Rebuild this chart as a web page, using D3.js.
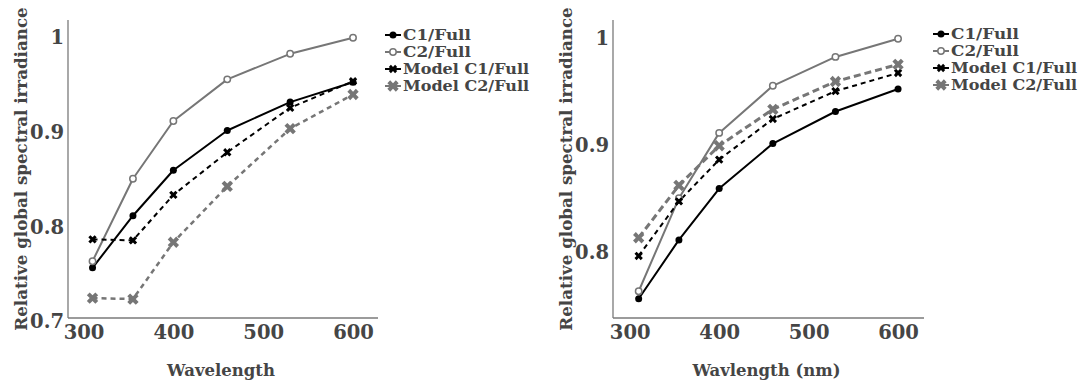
<!DOCTYPE html>
<html>
<head>
<meta charset="utf-8">
<script src="https://cdn.jsdelivr.net/npm/d3@7"></script>
<style>
  html, body { margin: 0; padding: 0; background: #fff; }
  svg text { font-family: "DejaVu Serif", serif; font-weight: bold; fill: #454545; }
</style>
</head>
<body>
<svg id="chart" width="1081" height="383"></svg>
<script>
// Wavelengths (nm) of the measured bands
const wavelengths = [310, 355, 400, 460, 530, 600];

// Measured relative irradiance (shared by both panels)
const c1Full = [0.753, 0.808, 0.856, 0.898, 0.928, 0.949];
const c2Full = [0.760, 0.847, 0.908, 0.952, 0.979, 0.996];

// Model results, first panel
const modelC1FullA = [0.783, 0.782, 0.830, 0.875, 0.922, 0.950];
const modelC2FullA = [0.721, 0.720, 0.780, 0.839, 0.900, 0.936];

// Model results, second panel
const modelC1FullB = [0.793, 0.844, 0.883, 0.921, 0.947, 0.964];
const modelC2FullB = [0.810, 0.859, 0.896, 0.930, 0.956, 0.972];

const seriesNames = ["C1/Full", "C2/Full", "Model C1/Full", "Model C2/Full"];
const xTicks = [300, 400, 500, 600];
const yTicksA = [0.7, 0.8, 0.9, 1];
const yTicksB = [0.8, 0.9, 1];

const svg = d3.select("#chart");

// Visual style for each series (order matches seriesNames)
const styles = [
  { color: "#000000", dash: null, width: 2, marker: "dot" },
  { color: "#767676", dash: null, width: 2, marker: "ring" },
  { color: "#000000", dash: "5,4", width: 2, marker: "x", size: 44 },
  { color: "#767676", dash: "5,4", width: 2.5, marker: "x", size: 80 }
];

function drawMarker(g, st, x, y) {
  if (st.marker === "dot") {
    g.append("circle").attr("cx", x).attr("cy", y).attr("r", 3.5)
      .attr("fill", st.color);
  } else if (st.marker === "ring") {
    g.append("circle").attr("cx", x).attr("cy", y).attr("r", 3.2)
      .attr("fill", "#fff").attr("stroke", st.color).attr("stroke-width", 1.5);
  } else {
    g.append("path")
      .attr("d", d3.symbol(d3.symbolCross, st.size)())
      .attr("transform", `translate(${x},${y}) rotate(45)`)
      .attr("fill", st.color);
  }
}

function panel(opts) {
  const g = svg.append("g");
  const x = d3.scaleLinear().domain(opts.xDomain).range([opts.left, opts.right]);
  const y = d3.scaleLinear().domain(opts.yDomain).range([opts.bottom, opts.top]);

  // axis lines
  g.append("line").attr("x1", opts.left).attr("x2", opts.left)
    .attr("y1", opts.top).attr("y2", opts.bottom)
    .attr("stroke", "#7a7a7a").attr("stroke-width", 1.3);
  g.append("line").attr("x1", opts.left).attr("x2", opts.right)
    .attr("y1", opts.bottom).attr("y2", opts.bottom)
    .attr("stroke", "#7a7a7a").attr("stroke-width", 1.3);

  // tick labels via d3 axes (tick marks and domain hidden)
  const xa = g.append("g").attr("transform", `translate(0,${opts.bottom})`)
    .call(d3.axisBottom(x).tickValues(xTicks).tickSize(0).tickPadding(0).tickFormat(d3.format("d")));
  xa.select(".domain").remove();
  xa.selectAll("text").attr("font-size", 19.5).attr("dy", null).attr("y", 21)
    .style("font-family", "DejaVu Serif").style("font-weight", "bold").attr("fill", "#454545");

  const ya = g.append("g").attr("transform", `translate(${opts.left},0)`)
    .call(d3.axisLeft(y).tickValues(opts.yTicks).tickSize(0).tickPadding(4).tickFormat(d => String(d)));
  ya.select(".domain").remove();
  ya.selectAll("text").attr("font-size", 19.5).attr("dy", "0.5em")
    .style("font-family", "DejaVu Serif").style("font-weight", "bold").attr("fill", "#454545");

  // axis titles
  g.append("text").attr("x", (opts.left + opts.right) / 2 - 2).attr("y", 376)
    .attr("text-anchor", "middle").attr("font-size", 16.5).text(opts.xTitle);
  g.append("text")
    .attr("transform", `translate(${opts.left - 41},169) rotate(-90)`)
    .attr("text-anchor", "middle").attr("font-size", 16.7)
    .text("Relative global spectral irradiance");

  // series lines then markers
  const line = d3.line().x((d, i) => x(wavelengths[i])).y(d => y(d));
  opts.series.forEach((vals, k) => {
    const st = opts.styles[k];
    g.append("path").datum(vals).attr("d", line)
      .attr("fill", "none").attr("stroke", st.color).attr("stroke-width", st.width)
      .attr("stroke-dasharray", st.dash).attr("stroke-linejoin", "round");
  });
  opts.series.forEach((vals, k) => {
    const st = opts.styles[k];
    const mg = g.append("g");
    vals.forEach((v, i) => drawMarker(mg, st, x(wavelengths[i]), y(v)));
  });

  // legend
  const lg = g.append("g").attr("transform", `translate(${opts.legendX},0)`);
  seriesNames.forEach((name, k) => {
    const st = opts.styles[k];
    const ly = opts.legendY + k * 17;
    lg.append("line").attr("x1", 0).attr("x2", 16).attr("y1", ly).attr("y2", ly)
      .attr("stroke", st.color).attr("stroke-width", 2);
    drawMarker(lg, st, 8, ly);
    lg.append("text").attr("x", 18).attr("y", ly).attr("dy", "0.36em")
      .attr("font-size", 14.5).attr("textLength", name.length * 9.7)
      .attr("lengthAdjust", "spacingAndGlyphs").text(name);
  });
}

panel({
  left: 68, right: 378, top: 20, bottom: 318,
  xDomain: [282.7, 627.8], yDomain: [0.7, 1.0147], yTicks: yTicksA,
  xTitle: "Wavelength",
  series: [c1Full, c2Full, modelC1FullA, modelC2FullA],
  styles: styles,
  legendX: 385, legendY: 35
});

panel({
  left: 613, right: 924, top: 20, bottom: 318,
  xDomain: [281.3, 629], yDomain: [0.735, 1.0135], yTicks: yTicksB,
  xTitle: "Wavlength (nm)",
  series: [c1Full, c2Full, modelC1FullB, modelC2FullB],
  styles: [styles[0], styles[1], styles[2],
    Object.assign({}, styles[3], { dash: "7,4", width: 3 })],
  legendX: 933, legendY: 34
});
</script>
</body>
</html>
